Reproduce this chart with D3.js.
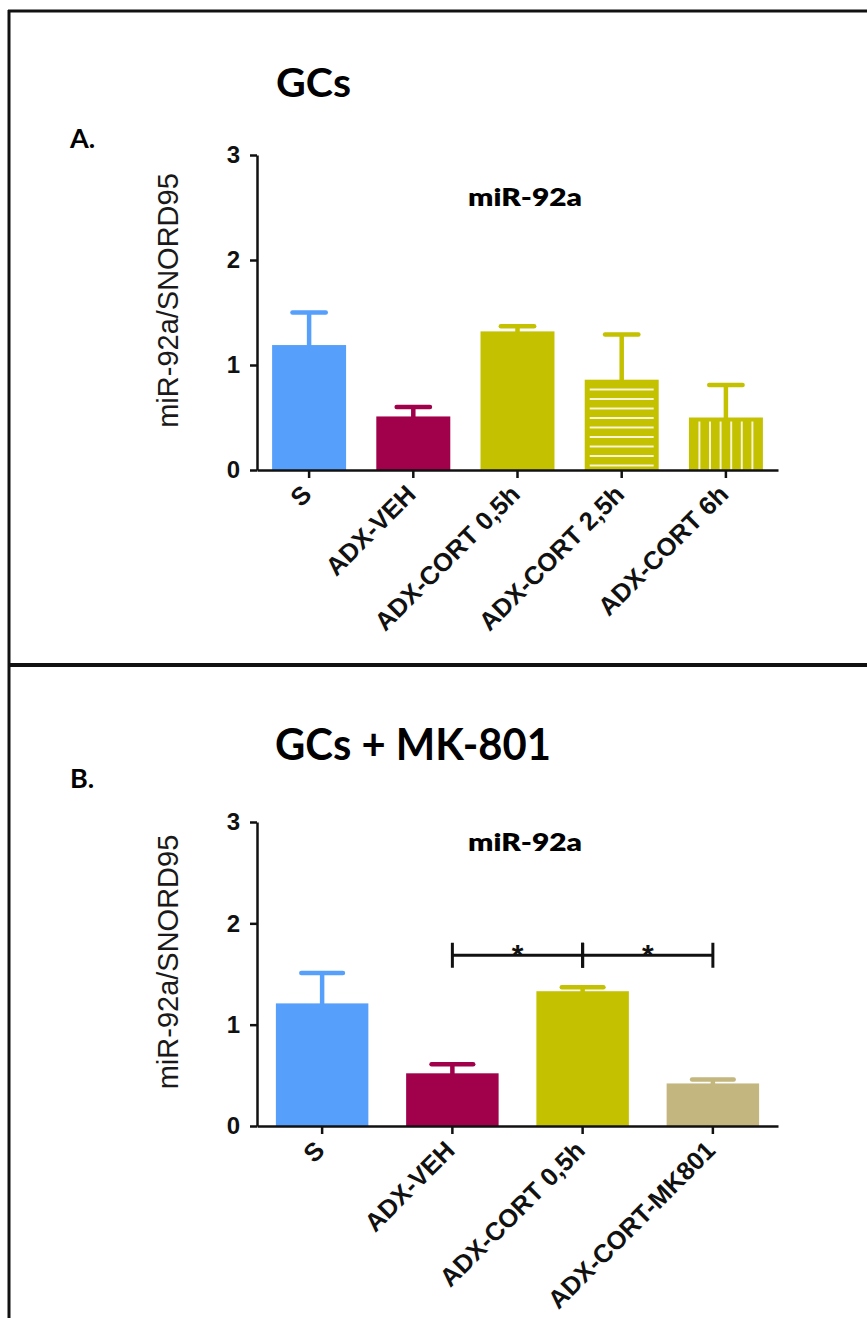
<!DOCTYPE html>
<html><head><meta charset="utf-8">
<script src="https://cdn.jsdelivr.net/npm/d3@7"></script>
<style>body{margin:0;background:#fff}svg{display:block}</style>
</head><body>
<script>
// ---- data ----
const yTickValues = [0, 1, 2, 3];
const yLabel = "miR-92a/SNORD95";
const geneTitle = "miR-92a";

const catsA = ["S", "ADX-VEH", "ADX-CORT 0,5h", "ADX-CORT 2,5h", "ADX-CORT 6h"];
const meanA = [1.19, 0.51, 1.32, 0.86, 0.50];
const semA  = [0.31, 0.09, 0.05, 0.43, 0.31];
const colorA = ["#56a0fb", "#a1004a", "#c4c100", "#c4c100", "#c4c100"];
const hatchA = ["none", "none", "none", "horizontal", "vertical"];

const catsB = ["S", "ADX-VEH", "ADX-CORT 0,5h", "ADX-CORT-MK801"];
const meanB = [1.21, 0.52, 1.33, 0.42];
const semB  = [0.30, 0.09, 0.04, 0.04];
const colorB = ["#56a0fb", "#a1004a", "#c4c100", "#c3b67f"];
const hatchB = ["none", "none", "none", "none"];
const sigPairsB = [["ADX-VEH", "ADX-CORT 0,5h"], ["ADX-CORT 0,5h", "ADX-CORT-MK801"]];
const sigLabelsB = ["*", "*"];
const sigLevelB = 1.685;

const W = 867, H = 1318;
const svg = d3.select("body").append("svg").attr("width", W).attr("height", H);

const axisFont = "'Liberation Sans', Arial, Helvetica, sans-serif";
const titleFont = "Lato, 'Open Sans', sans-serif";

// frame
svg.append("line").attr("x1", 9).attr("x2", 9).attr("y1", 10).attr("y2", H).attr("stroke", "#111").attr("stroke-width", 3);
svg.append("line").attr("x1", 8).attr("x2", W).attr("y1", 11).attr("y2", 11).attr("stroke", "#111").attr("stroke-width", 3);
svg.append("line").attr("x1", 8).attr("x2", W).attr("y1", 665).attr("y2", 665).attr("stroke", "#111").attr("stroke-width", 4);

function panel(cfg) {
  const g = svg.append("g");
  const y = d3.scaleLinear().domain([0, 3]).range([cfg.y0, cfg.y3]);
  const x = d3.scaleBand().domain(cfg.cats).range([257, 778]).paddingInner(0.29).paddingOuter(0.145);
  const bw = x.bandwidth();

  // titles
  g.append("text").attr("x", cfg.titleX).attr("y", cfg.titleY)
    .attr("font-family", titleFont).attr("font-weight", 700).attr("font-size", cfg.titleSize)
    .attr("textLength", cfg.titleLen).attr("lengthAdjust", "spacingAndGlyphs")
    .text(cfg.title);
  g.append("text").attr("x", 70).attr("y", cfg.letterY)
    .attr("font-family", titleFont).attr("font-weight", 700).attr("font-size", 27)
    .text(cfg.letter);
  g.append("text").attr("x", 525).attr("y", cfg.geneY).attr("text-anchor", "middle")
    .attr("font-family", titleFont).attr("font-weight", 800).attr("font-size", 24)
    .attr("textLength", 114).attr("lengthAdjust", "spacingAndGlyphs")
    .text(geneTitle);

  // y title
  g.append("text")
    .attr("transform", `translate(178,${(cfg.y0 + cfg.y3) / 2 - 12}) rotate(-90)`)
    .attr("text-anchor", "middle").attr("font-family", axisFont).attr("font-size", 29).attr("fill", "#1a1a1a")
    .text(yLabel);

  // bars
  cfg.cats.forEach((c, i) => {
    const bx = x(c), top = y(cfg.mean[i]), base = y(0);
    g.append("rect").attr("x", bx).attr("y", top).attr("width", bw).attr("height", base - top)
      .attr("fill", cfg.colors[i]);
    // error bar
    const et = y(cfg.mean[i] + cfg.sem[i]);
    const cx = bx + bw / 2, cw = bw * 0.45;
    g.append("line").attr("x1", cx).attr("x2", cx).attr("y1", top + 1).attr("y2", et)
      .attr("stroke", cfg.colors[i]).attr("stroke-width", 4.5);
    g.append("line").attr("x1", cx - cw / 2).attr("x2", cx + cw / 2).attr("y1", et).attr("y2", et)
      .attr("stroke", cfg.colors[i]).attr("stroke-width", 4.5).attr("stroke-linecap", "round");
    // hatching
    const hc = "#f6f4d2";
    if (cfg.hatch[i] === "horizontal") {
      for (let yy = base - 4.5; yy > top + 8; yy -= 9.5) {
        g.append("line").attr("x1", bx + 5).attr("x2", bx + bw - 5).attr("y1", yy).attr("y2", yy)
          .attr("stroke", hc).attr("stroke-width", 2);
      }
    } else if (cfg.hatch[i] === "vertical") {
      const n = 6, sp = 10.6;
      for (let k = 0; k < n; k++) {
        const xx = cx + (k - (n - 1) / 2) * sp;
        g.append("line").attr("x1", xx).attr("x2", xx).attr("y1", top + 4).attr("y2", base)
          .attr("stroke", hc).attr("stroke-width", 2);
      }
    }
  });

  // axes
  const ya = g.append("g").attr("transform", "translate(257,0)")
    .call(d3.axisLeft(y).tickValues(yTickValues).tickFormat(d3.format("d")).tickSize(7).tickSizeOuter(0).tickPadding(10));
  ya.select(".domain").attr("stroke", "#111").attr("stroke-width", 2.5);
  ya.selectAll(".tick line").attr("stroke", "#111").attr("stroke-width", 2.5);
  ya.selectAll(".tick text").attr("font-family", axisFont).attr("font-weight", 700).attr("font-size", 24).attr("fill", "#111");

  const xa = g.append("g").attr("transform", `translate(0,${cfg.y0})`)
    .call(d3.axisBottom(x).tickSize(8).tickSizeOuter(0).tickPadding(0));
  xa.select(".domain").attr("stroke", "#111").attr("stroke-width", 2.5);
  xa.selectAll(".tick line").attr("stroke", "#111").attr("stroke-width", 2.5);
  xa.selectAll(".tick text")
    .attr("font-family", axisFont).attr("font-weight", 700).attr("font-size", 25.5).attr("fill", "#111")
    .attr("text-anchor", "end").attr("dy", null).attr("y", null)
    .attr("transform", "translate(4,26) rotate(-45)");

  // significance
  if (cfg.sig) {
    const sy = y(cfg.sigLevel);
    cfg.sig.forEach((p, k) => {
      const x1 = x(p[0]) + bw / 2, x2 = x(p[1]) + bw / 2;
      g.append("line").attr("x1", x1).attr("x2", x2).attr("y1", sy).attr("y2", sy).attr("stroke", "#111").attr("stroke-width", 3);
      [x1, x2].forEach(xx => g.append("line").attr("x1", xx).attr("x2", xx).attr("y1", sy - 12.5).attr("y2", sy + 12.5)
        .attr("stroke", "#111").attr("stroke-width", 3));
      g.append("text").attr("x", (x1 + x2) / 2).attr("y", sy + 10).attr("text-anchor", "middle")
        .attr("font-family", axisFont).attr("font-weight", 700).attr("font-size", 30).attr("fill", "#111")
        .text(cfg.sigLabels[k]);
    });
  }
}

panel({cats: catsA, mean: meanA, sem: semA, colors: colorA, hatch: hatchA,
  y0: 470, y3: 155, title: "GCs", titleX: 276, titleY: 97, titleSize: 40, titleLen: 75,
  letter: "A.", letterY: 148, geneY: 206});
panel({cats: catsB, mean: meanB, sem: semB, colors: colorB, hatch: hatchB,
  y0: 1126, y3: 822, title: "GCs + MK-801", titleX: 275, titleY: 760, titleSize: 43, titleLen: 276,
  letter: "B.", letterY: 788, geneY: 851, sig: sigPairsB.map(p => p), sigLabels: sigLabelsB, sigLevel: sigLevelB});
</script>
</body></html>
